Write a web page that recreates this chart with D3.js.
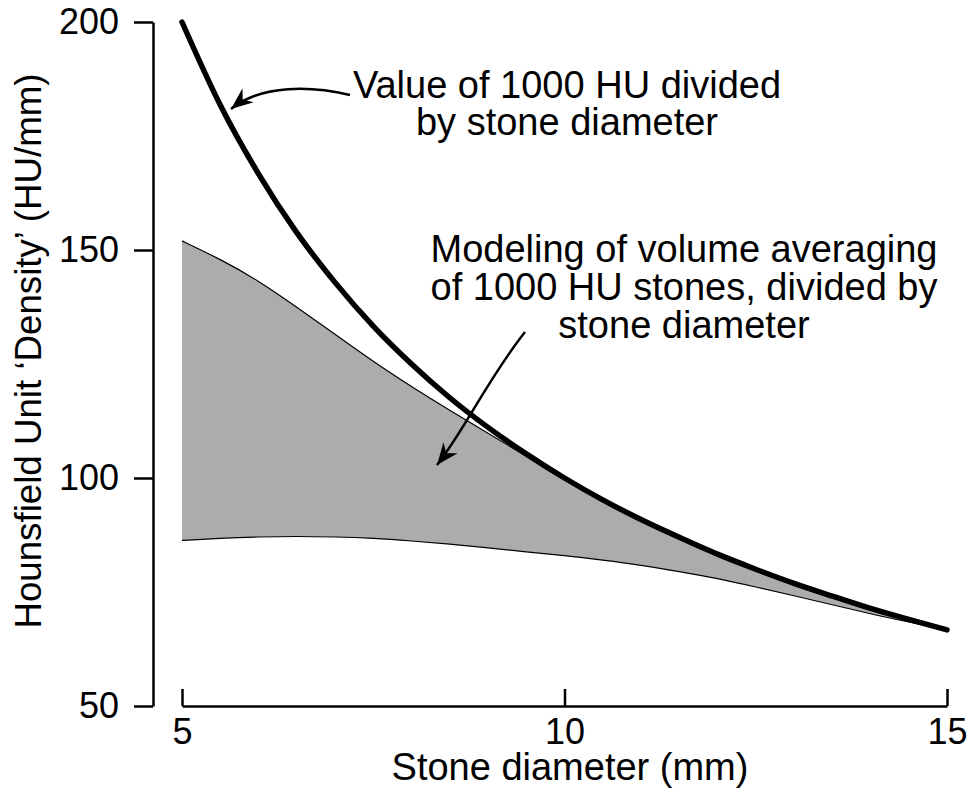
<!DOCTYPE html>
<html>
<head>
<meta charset="utf-8">
<script src="https://cdn.jsdelivr.net/npm/d3@7"></script>
<style>
  body { margin: 0; background: #fff; }
  svg { display: block; font-family: 'Liberation Sans', Arial, sans-serif; }
</style>
</head>
<body>
<svg id="chart" width="974" height="794"></svg>
<script>
// stone diameter (mm)
const diameters = [5, 5.5, 6, 6.5, 7, 7.5, 8, 8.5, 9, 9.5, 10, 10.5, 11, 11.5, 12, 12.5, 13, 13.5, 14, 14.5, 15];
// 1000 HU divided by diameter
const idealValues = [200, 181.8, 166.7, 153.8, 142.9, 133.3, 125, 117.6, 111.1, 105.3, 100, 95.2, 90.9, 87, 83.3, 80, 76.9, 74.1, 71.4, 69, 66.7];
// volume averaging band
const bandUpper = [152, 148, 143.3, 137.5, 131.5, 125.5, 120, 114.8, 109.8, 104.8, 99.8, 95, 90.7, 86.8, 83.1, 79.8, 76.8, 74, 71.3, 68.9, 66.7];
const bandLower = [86.3, 86.8, 87.1, 87.2, 87.1, 86.8, 86.2, 85.5, 84.7, 83.8, 83, 82, 80.9, 79.5, 78, 76.1, 74.2, 72.2, 70.2, 68.4, 66.7];

const xTicks = [5, 10, 15];
const yTicks = [50, 100, 150, 200];

const svg = d3.select('#chart');

const x = d3.scaleLinear().domain([5, 15]).range([182, 947]);
const y = d3.scaleLinear().domain([50, 200]).range([706, 22]);

const rows = diameters.map((d, i) => ({ d, ideal: idealValues[i], lo: bandLower[i], hi: bandUpper[i] }));

// shaded band
svg.append('path')
  .datum(rows)
  .attr('fill', '#acacac')
  .attr('d', d3.area().x(r => x(r.d)).y0(r => y(r.lo)).y1(r => y(r.hi)).curve(d3.curveBasis));

const edge = (key, curve) => d3.line().x(r => x(r.d)).y(r => y(r[key])).curve(curve);

svg.append('path').datum(rows).attr('fill', 'none').attr('stroke', '#000').attr('stroke-width', 1.2).attr('d', edge('hi', d3.curveBasis));
svg.append('path').datum(rows).attr('fill', 'none').attr('stroke', '#000').attr('stroke-width', 1.2).attr('d', edge('lo', d3.curveBasis));

// ideal curve
svg.append('path')
  .datum(rows)
  .attr('fill', 'none')
  .attr('stroke', '#000')
  .attr('stroke-width', 5.5)
  .attr('stroke-linecap', 'round')
  .attr('d', edge('ideal', d3.curveMonotoneX));

// y axis, ticks point outward
const yAxis = svg.append('g')
  .attr('transform', 'translate(153,0)')
  .call(d3.axisLeft(y).tickValues(yTicks).tickSize(19).tickPadding(15).tickSizeOuter(0));
yAxis.select('.domain').attr('stroke-width', 2.5);
yAxis.selectAll('.tick line').attr('stroke-width', 2.5);
yAxis.selectAll('.tick text').attr('font-size', 36).attr('font-family', 'Liberation Sans, Arial, sans-serif').attr('fill', '#000');

// x axis, ticks point inward
const xAxis = svg.append('g')
  .attr('transform', 'translate(0,706)')
  .call(d3.axisBottom(x).tickValues(xTicks).tickSize(-17).tickSizeOuter(0).tickPadding(0));
xAxis.select('.domain').attr('stroke-width', 2.5);
xAxis.selectAll('.tick line').attr('stroke-width', 2.5);
xAxis.selectAll('.tick text')
  .attr('font-size', 36)
  .attr('font-family', 'Liberation Sans, Arial, sans-serif')
  .attr('fill', '#000')
  .attr('dy', null)
  .attr('y', 38);

// axis titles
svg.append('text')
  .attr('x', 570)
  .attr('y', 780)
  .attr('text-anchor', 'middle')
  .attr('font-size', 38)
  .text('Stone diameter (mm)');

svg.append('text')
  .attr('transform', 'translate(41,351) rotate(-90)')
  .attr('text-anchor', 'middle')
  .attr('font-size', 36.7)
  .text('Hounsfield Unit \u2018Density\u2019 (HU/mm)');

// annotations
const note1 = ['Value of 1000 HU divided', 'by stone diameter'];
const note2 = ['Modeling of volume averaging', 'of 1000 HU stones, divided by', 'stone diameter'];

svg.append('text')
  .attr('text-anchor', 'middle')
  .attr('font-size', 38)
  .selectAll('tspan')
  .data(note1)
  .join('tspan')
  .attr('x', 567)
  .attr('y', (d, i) => 98 + i * 36.5)
  .text(d => d);

svg.append('text')
  .attr('text-anchor', 'middle')
  .attr('font-size', 38)
  .selectAll('tspan')
  .data(note2)
  .join('tspan')
  .attr('x', 684)
  .attr('y', (d, i) => 262 + i * 38)
  .text(d => d);

// arrowhead
svg.append('defs').append('marker')
  .attr('id', 'head')
  .attr('viewBox', '-24 -10 26 20')
  .attr('refX', 0)
  .attr('refY', 0)
  .attr('markerWidth', 26)
  .attr('markerHeight', 20)
  .attr('markerUnits', 'userSpaceOnUse')
  .attr('orient', 'auto')
  .append('path')
  .attr('d', 'M0,0 L-22,-9 L-15,0 L-22,9 Z')
  .attr('fill', '#000');

svg.append('path')
  .attr('d', 'M350,95 C312,86 262,84 231,109')
  .attr('fill', 'none')
  .attr('stroke', '#000')
  .attr('stroke-width', 2.5)
  .attr('marker-end', 'url(#head)');

svg.append('path')
  .attr('d', 'M525,332 C487,380 466,428 437,465')
  .attr('fill', 'none')
  .attr('stroke', '#000')
  .attr('stroke-width', 2.5)
  .attr('marker-end', 'url(#head)');
</script>
</body>
</html>
